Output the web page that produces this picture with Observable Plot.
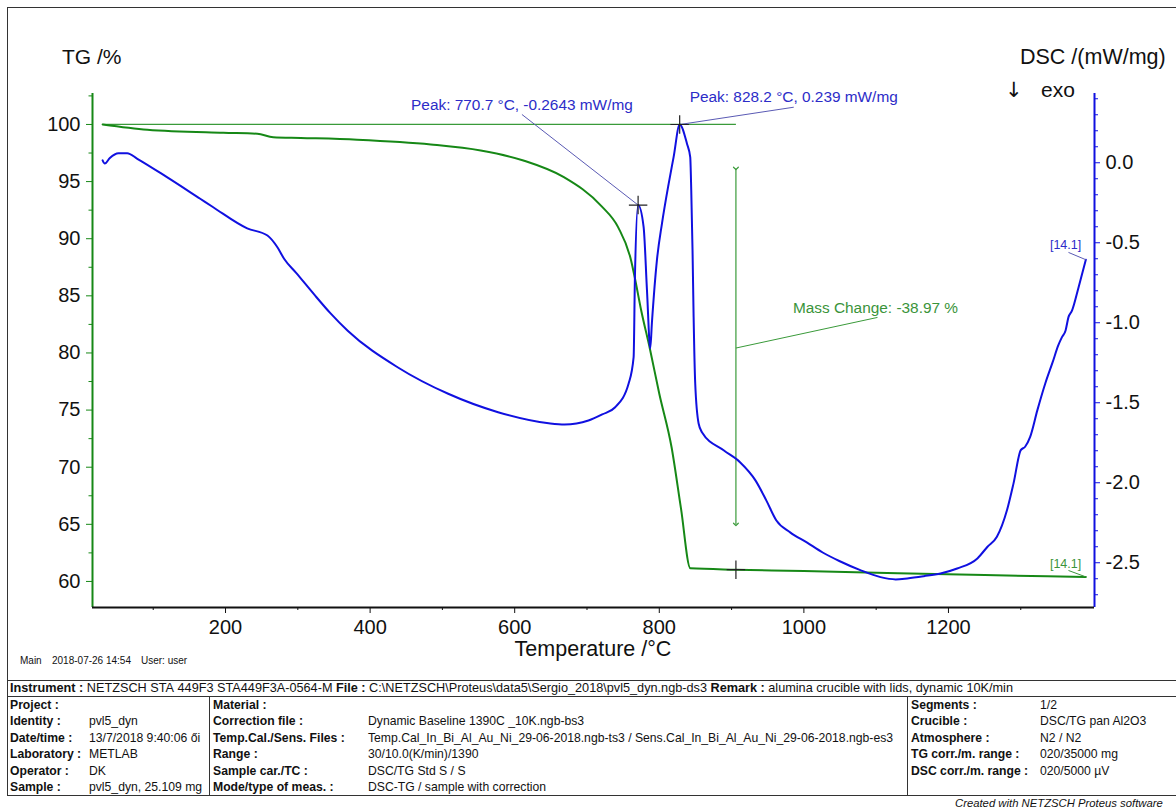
<!DOCTYPE html>
<html><head><meta charset="utf-8">
<script src="https://cdn.jsdelivr.net/npm/d3@7"></script>
<script src="https://cdn.jsdelivr.net/npm/@observablehq/plot@0.6"></script>
<style>
html,body{margin:0;padding:0;background:#fff;}
#root{position:relative;width:1176px;height:807px;overflow:hidden;font-family:"Liberation Sans",Arial,sans-serif;color:#111;}
.abs{position:absolute;white-space:nowrap;line-height:1;}
.hl{position:absolute;height:0;border-top:1.5px solid #333;}
.vl{position:absolute;width:0;border-left:1.5px solid #333;}
.tb{font-size:12.2px;}
.tbi{font-size:12.7px;}
.tb b,.tbi b{font-weight:bold;}
</style></head>
<body><div id="root"></div>
<script>
// ---------- data ----------
const tgTemp = [30, 92, 197, 244, 266, 304, 382, 484, 553, 612, 668, 720, 743, 761, 766, 775, 787, 800, 817, 830, 843, 906, 1000, 1130, 1250, 1390];
const tgMass = [100.0, 99.54, 99.27, 99.19, 98.89, 98.82, 98.66, 98.25, 97.72, 96.85, 95.39, 92.85, 91.01, 88.1, 86.63, 83.72, 80.37, 76.43, 71.75, 66.4, 61.15, 61.03, 60.92, 60.72, 60.56, 60.4];

const dscTemp = [30, 33, 40, 52, 64, 78, 119, 165, 183, 230, 258, 272, 281, 298, 322, 345, 369, 438, 508, 577, 647, 669, 702, 721, 739, 757.6, 764.5, 766.3, 770.7, 778.3, 783, 787.5, 789.8, 796.7, 803.7, 813, 819.8, 828.2, 838.3, 842.8, 844.2, 846, 847.5, 849.7, 854.4, 859, 889, 912, 933, 948, 962, 981, 1004, 1026, 1049, 1078, 1106, 1127, 1143, 1166, 1189, 1212, 1240, 1254, 1267, 1281, 1290, 1300, 1306, 1313, 1323, 1334, 1344, 1352, 1357, 1362, 1366, 1371, 1380, 1390];
const dscValue = [0.015, -0.005, 0.03, 0.06, 0.06, 0.025, -0.09, -0.225, -0.278, -0.41, -0.455, -0.53, -0.60, -0.69, -0.82, -0.94, -1.05, -1.278, -1.444, -1.559, -1.628, -1.636, -1.611, -1.573, -1.528, -1.38, -1.215, -0.715, -0.2643, -0.40, -0.80, -1.16, -1.00, -0.61, -0.38, -0.13, 0.035, 0.239, 0.119, 0.035, -0.17, -0.55, -0.965, -1.38, -1.63, -1.684, -1.797, -1.873, -1.985, -2.11, -2.236, -2.31, -2.373, -2.436, -2.489, -2.546, -2.59, -2.604, -2.598, -2.584, -2.567, -2.536, -2.473, -2.40, -2.338, -2.171, -2.004, -1.796, -1.775, -1.713, -1.546, -1.378, -1.248, -1.14, -1.09, -1.048, -0.965, -0.923, -0.778, -0.606];

const tempTicks = [200, 400, 600, 800, 1000, 1200];
const tempMinorTicks = [100, 300, 500, 700, 900, 1100, 1300];
const tgTicks = [60, 65, 70, 75, 80, 85, 90, 95, 100];
const tgMinorTicks = [62.5, 67.5, 72.5, 77.5, 82.5, 87.5, 92.5, 97.5, 102.5];
const dscTicks = [0, -0.5, -1.0, -1.5, -2.0, -2.5];
const dscMinorTicks = [0.4, 0.3, 0.2, 0.1, -0.1, -0.2, -0.3, -0.4, -0.6, -0.7, -0.8, -0.9, -1.1, -1.2, -1.3, -1.4, -1.6, -1.7, -1.8, -1.9, -2.1, -2.2, -2.3, -2.4, -2.6, -2.7];

// annotations (data units)
const peakT = [770.7, 828.2];
const peakDSC = [-0.2643, 0.239];
const peakText = ["Peak: 770.7 °C, -0.2643 mW/mg", "Peak: 828.2 °C, 0.239 mW/mg"];
const peakLeaderT = [610, 986];
const peakLeaderTG = [100.875, 101.51];
const peakLabelTG = [101.66, 102.36];

const massT = 906;
const massTopTG = 96.15, massBottomTG = 64.99;
const massEndTG = 61.03;
const massRefStartT = 30, massRefTG = 100;
const massText = "Mass Change: -38.97 %";
const massLeader = {t1: 906, v1: 80.43, t2: 1101.8, v2: 83.11};
const massLabel = {t: 1099, v: 83.92};

const endText = "[14.1]";
const endT = 1390;
const endLabelT = 1362, endLeaderT = 1366;
const endLabelTGblue = 89.41, endLeaderTGblue = 88.80;
const endLabelTGgreen = 61.49, endLeaderTGgreen = 60.96;

// info table
const instrumentParts = [["Instrument :", true], [" NETZSCH STA 449F3 STA449F3A-0564-M ", false], ["File :", true], [" C:\\NETZSCH\\Proteus\\data5\\Sergio_2018\\pvl5_dyn.ngb-ds3 ", false], ["Remark :", true], [" alumina crucible with lids, dynamic 10K/min", false]];
const col1Labels = ["Project :", "Identity :", "Date/time :", "Laboratory :", "Operator :", "Sample :"];
const col1Values = ["", "pvl5_dyn", "13/7/2018 9:40:06 ői", "METLAB", "DK", "pvl5_dyn, 25.109 mg"];
const col2Labels = ["Material :", "Correction file :", "Temp.Cal./Sens. Files :", "Range :", "Sample car./TC :", "Mode/type of meas. :"];
const col2Values = ["", "Dynamic Baseline 1390C _10K.ngb-bs3", "Temp.Cal_In_Bi_Al_Au_Ni_29-06-2018.ngb-ts3 / Sens.Cal_In_Bi_Al_Au_Ni_29-06-2018.ngb-es3", "30/10.0(K/min)/1390", "DSC/TG Std S / S", "DSC-TG / sample with correction"];
const col3Labels = ["Segments :", "Crucible :", "Atmosphere :", "TG corr./m. range :", "DSC corr./m. range :", ""];
const col3Values = ["1/2", "DSC/TG pan Al2O3", "N2 / N2", "020/35000 mg", "020/5000 µV", ""];
const footerParts = ["Main", "2018-07-26 14:54", "User: user"];

// ---------- scales ----------
const xDomain = [16, 1402];
const yDomain = [57.72, 102.71];
const DSC0 = 96.648, DSCK = 14.004;           // DSC (mW/mg) -> TG-axis units
const dscToY = d => DSC0 + DSCK * d;

const green = "#168816", greenText = "#3a943a", blue = "#1010e0", blueText = "#2c2cc8", leaderBlue = "#5a5ab4";

const tgData = tgTemp.map((T, i) => ({T, v: tgMass[i]}));
const dscData = dscTemp.map((T, i) => ({T, v: dscToY(dscValue[i])}));
const peaks = peakT.map((T, i) => ({T, v: dscToY(peakDSC[i]), lt: peakLeaderT[i], lv: peakLeaderTG[i], ly: peakLabelTG[i], text: peakText[i]}));

const plot = Plot.plot({
  width: 1176, height: 675,
  marginLeft: 92, marginRight: 82, marginTop: 93, marginBottom: 68,
  style: {fontFamily: '"Liberation Sans", Arial, sans-serif', fontSize: "20px", background: "transparent", color: "#111", overflow: "visible"},
  x: {domain: xDomain},
  y: {domain: yDomain},
  marks: [
    Plot.axisX(tempMinorTicks, {tickSize: 3, tickFormat: () => "", stroke: "#111", label: null}),
    Plot.axisX(tempTicks, {tickSize: 6, tickPadding: 6, stroke: "#111", fill: "#111", label: null, tickFormat: d => String(d)}),
    Plot.axisY(tgMinorTicks, {anchor: "left", tickSize: 3.5, tickFormat: () => "", stroke: green, label: null}),
    Plot.axisY(tgTicks, {anchor: "left", tickSize: 6, tickPadding: 6, stroke: green, fill: "#111", label: null, tickFormat: d => String(d)}),
    Plot.axisY(dscMinorTicks.map(dscToY), {anchor: "right", tickSize: 3, tickFormat: () => "", stroke: blue, label: null}),
    Plot.axisY(dscTicks.map(dscToY), {anchor: "right", tickSize: 5, tickPadding: 6, stroke: blue, fill: "#111", label: null, tickFormat: y => ((y - DSC0) / DSCK).toFixed(1)}),
    Plot.ruleX([xDomain[0]], {stroke: green, strokeWidth: 2}),
    Plot.ruleX([xDomain[1]], {stroke: blue, strokeWidth: 2}),
    Plot.ruleY([yDomain[0]], {stroke: "#111", strokeWidth: 2}),
    // mass change reference & arrow
    Plot.link([{}], {x1: () => massRefStartT, x2: () => massT, y1: () => massRefTG, y2: () => massRefTG, stroke: "#3a9a3a", strokeWidth: 1.2}),
    Plot.link([{}], {x1: () => massT, x2: () => massT, y1: () => massTopTG, y2: () => massBottomTG, stroke: "#3a9a3a", strokeWidth: 1.2, markerStart: "arrow", markerEnd: "arrow"}),
    Plot.link([massLeader], {x1: "t1", y1: "v1", x2: "t2", y2: "v2", stroke: "#3a9a3a", strokeWidth: 1}),
    Plot.text([massLabel], {x: "t", y: "v", text: () => massText, fill: greenText, fontSize: 15.4}),
    // curves
    Plot.line(tgData, {x: "T", y: "v", stroke: green, strokeWidth: 2, curve: "monotone-x"}),
    Plot.line(dscData, {x: "T", y: "v", stroke: blue, strokeWidth: 2, curve: "monotone-x"}),
    // peak annotations
    Plot.link(peaks, {x1: "T", y1: "v", x2: "lt", y2: "lv", stroke: leaderBlue, strokeWidth: 1}),
    Plot.text(peaks, {x: "lt", y: "ly", text: "text", fill: blueText, fontSize: 15.4}),
    Plot.dot(peaks, {x: "T", y: "v", symbol: "plus", r: 6, stroke: "#222", strokeWidth: 1.2}),
    Plot.dot([{}], {x: () => massT, y: () => massEndTG, symbol: "plus", r: 6, stroke: "#222", strokeWidth: 1.2}),
    // end labels
    Plot.link([{}], {x1: () => endLeaderT, y1: () => endLeaderTGblue, x2: () => endT, y2: () => dscToY(dscValue[dscValue.length - 1]), stroke: leaderBlue, strokeWidth: 1}),
    Plot.text([{}], {x: () => endLabelT, y: () => endLabelTGblue, text: () => endText, fill: blueText, fontSize: 12.5}),
    Plot.link([{}], {x1: () => endLeaderT, y1: () => endLeaderTGgreen, x2: () => endT, y2: () => tgMass[tgMass.length - 1], stroke: greenText, strokeWidth: 1}),
    Plot.text([{}], {x: () => endLabelT, y: () => endLabelTGgreen, text: () => endText, fill: greenText, fontSize: 12.5})
  ]
});

// ---------- layout ----------
const root = document.getElementById("root");
plot.style.position = "absolute";
plot.style.left = "0px";
plot.style.top = "0px";
root.appendChild(plot);

function addDiv(cls, css, html) {
  const d = document.createElement("div");
  d.className = cls;
  Object.assign(d.style, css);
  if (html !== undefined) d.innerHTML = html;
  root.appendChild(d);
  return d;
}
function esc(s) { return s.replace(/&/g, "&amp;").replace(/</g, "&lt;"); }

// outer frame
addDiv("", {position: "absolute", left: "7px", top: "7px", width: "1190px", height: "789px", border: "1.5px solid #333", boxSizing: "border-box"});

// titles
addDiv("abs", {left: "62px", top: "46px", fontSize: "21px"}, "TG /%");
addDiv("abs", {left: "1020px", top: "47px", fontSize: "21.5px"}, "DSC /(mW/mg)");
addDiv("abs", {left: "1005px", top: "80px", fontSize: "21px", fontFamily: '"DejaVu Sans", sans-serif'}, "↓");
addDiv("abs", {left: "1041px", top: "79px", fontSize: "21px"}, "exo");
addDiv("abs", {left: "593px", top: "640.5px", fontSize: "21.5px", lineHeight: "0.8", transform: "translateX(-50%)"}, "Temperature /°C");
[20, 52, 141].forEach((x, i) => addDiv("abs", {left: x + "px", top: "656px", fontSize: "10px"}, esc(footerParts[i])));

// table lines
addDiv("hl", {left: "7px", top: "680px", width: "1180px"});
addDiv("hl", {left: "7px", top: "696px", width: "1180px"});
addDiv("hl", {left: "7px", top: "795px", width: "1180px"});
addDiv("vl", {left: "209px", top: "696px", height: "100px"});
addDiv("vl", {left: "907px", top: "696px", height: "100px"});

addDiv("abs tbi", {left: "10px", top: "682px"}, instrumentParts.map(([t, b]) => b ? "<b>" + esc(t) + "</b>" : esc(t).replace(/ /g, "&nbsp;")).join(""));
const rowTops = [698.5, 715, 731.5, 748, 764.5, 781];
const cols = [[col1Labels, col1Values, 10, 89], [col2Labels, col2Values, 213, 368], [col3Labels, col3Values, 911, 1040]];
cols.forEach(([labs, vals, lx, vx]) => {
  labs.forEach((l, i) => {
    if (l) addDiv("abs tb", {left: lx + "px", top: rowTops[i] + "px", fontWeight: "bold"}, esc(l));
    if (vals[i]) addDiv("abs tb", {left: vx + "px", top: rowTops[i] + "px"}, esc(vals[i]));
  });
});
addDiv("abs", {left: "955px", top: "797.5px", fontSize: "11.3px", fontStyle: "italic"}, "Created with NETZSCH Proteus software");
</script>
</body></html>
